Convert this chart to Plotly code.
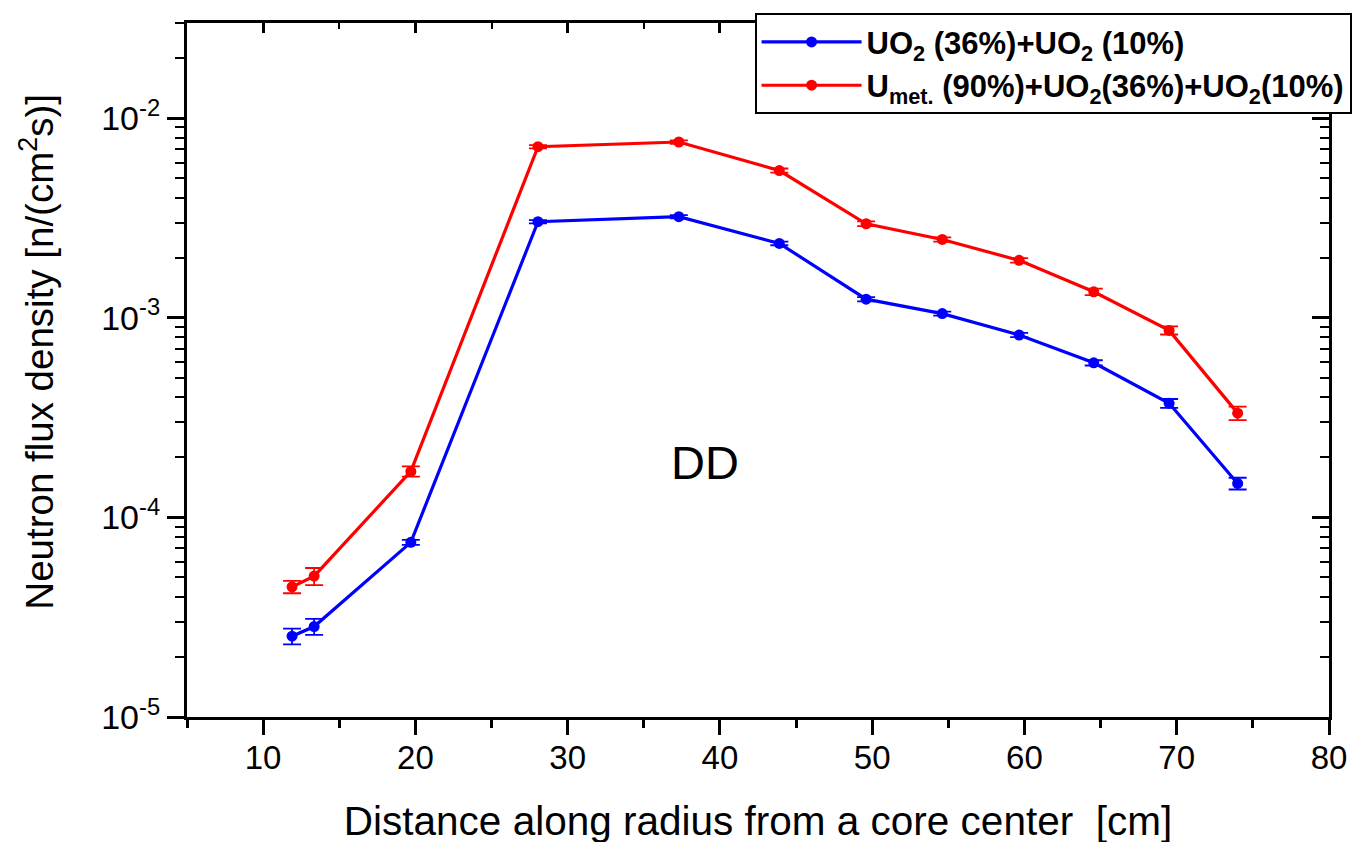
import plotly.graph_objects as go

# Distance along radius [cm]
distance = [11.9, 13.35, 19.7, 28.05, 37.3, 43.9, 49.6, 54.6, 59.65, 64.55, 69.5, 74.0]

# UO2 (36%) + UO2 (10%)
flux_uo2 = [2.54e-5, 2.84e-5, 7.5e-5, 3.03e-3, 3.21e-3, 2.36e-3, 1.24e-3, 1.05e-3, 8.2e-4, 5.95e-4, 3.73e-4, 1.48e-4]
err_uo2 = [2.3e-6, 2.6e-6, 2.2e-6, 6e-5, 6e-5, 5e-5, 3e-5, 2.5e-5, 2e-5, 1.8e-5, 1.9e-5, 1.0e-5]

# Umet (90%) + UO2 (36%) + UO2 (10%)
flux_umet = [4.49e-5, 5.08e-5, 1.70e-4, 7.2e-3, 7.6e-3, 5.47e-3, 2.96e-3, 2.47e-3, 1.94e-3, 1.35e-3, 8.65e-4, 3.33e-4]
err_umet = [3.2e-6, 5e-6, 1.0e-5, 1.4e-4, 1.5e-4, 1.3e-4, 8e-5, 6e-5, 5e-5, 5e-5, 4e-5, 2.6e-5]

series_names = [
    "<b>UO<sub>2</sub> (36%)+UO<sub>2</sub> (10%)</b>",
    "<b>U<sub>met.</sub> (90%)+UO<sub>2</sub>(36%)+UO<sub>2</sub>(10%)</b>",
]

x_title = "Distance along radius from a core center  [cm]"
y_title = "Neutron flux density [n/(cm<sup>2</sup>s)]"

x_major = [10, 20, 30, 40, 50, 60, 70, 80]
x_minor = [5, 15, 25, 35, 45, 55, 65, 75]
y_major = [1e-5, 1e-4, 1e-3, 1e-2]
y_major_text = ["10<sup>-5</sup>", "10<sup>-4</sup>", "10<sup>-3</sup>", "10<sup>-2</sup>"]
y_minor = [m * 10.0 ** e for e in (-5, -4, -3, -2) for m in range(2, 10) if m * 10.0 ** e <= 0.0301]

X_RANGE = [5, 80]
Y_RANGE = [-5, -1.5229]

FONT = "Liberation Sans, Arial, sans-serif"

fig = go.Figure()
for ys, es, col, name in [(flux_uo2, err_uo2, "#0000FF", series_names[0]),
                          (flux_umet, err_umet, "#FF0000", series_names[1])]:
    fig.add_trace(go.Scatter(
        x=distance, y=ys, name=name, mode="lines+markers",
        line=dict(color=col, width=3.2),
        marker=dict(color=col, size=11),
        error_y=dict(type="data", array=es, visible=True, color=col, thickness=1.8, width=9),
    ))

# empty trace to activate mirrored axes (top / right with inward ticks)
fig.add_trace(go.Scatter(x=[], y=[], xaxis="x2", yaxis="y2", showlegend=False, hoverinfo="skip"))

axis_common = dict(showline=True, linecolor="black", linewidth=3, showgrid=False, zeroline=False,
                   tickcolor="black", tickwidth=3, automargin=False)

fig.update_layout(
    width=1366, height=842,
    margin=dict(l=179, r=45, t=5, b=133),
    paper_bgcolor="white", plot_bgcolor="white",
    font=dict(family=FONT, color="black"),
    showlegend=True,
    xaxis=dict(range=X_RANGE, tickmode="array", tickvals=x_major, ticks="outside", ticklen=15,
               tickfont=dict(size=33, family=FONT), ticklabelstandoff=-6,
               minor=dict(tickmode="array", tickvals=x_minor, ticks="outside", ticklen=8,
                          tickwidth=3, tickcolor="black"),
               title=dict(text=x_title, font=dict(size=40.5, family=FONT), standoff=33),
               **axis_common),
    yaxis=dict(type="log", range=Y_RANGE, tickmode="array", tickvals=y_major, ticktext=y_major_text,
               ticks="outside", ticklen=17, tickfont=dict(size=34, family=FONT),
               minor=dict(tickmode="array", tickvals=y_minor, ticks="outside", ticklen=9,
                          tickwidth=2, tickcolor="black"),
               **axis_common),
    xaxis2=dict(range=X_RANGE, overlaying="x", side="top", tickmode="array", tickvals=x_major,
                ticks="inside", ticklen=10, showticklabels=False,
                minor=dict(tickmode="array", tickvals=x_minor, ticks="inside", ticklen=6,
                           tickwidth=2, tickcolor="black"),
                **axis_common),
    yaxis2=dict(type="log", range=Y_RANGE, overlaying="y", side="right", tickmode="array",
                tickvals=y_major, ticks="inside", ticklen=17, showticklabels=False,
                minor=dict(tickmode="array", tickvals=y_minor, ticks="inside", ticklen=9,
                           tickwidth=2, tickcolor="black"),
                **axis_common),
    legend=dict(x=0.497, y=1.014, xanchor="left", yanchor="top",
                bgcolor="white", bordercolor="black", borderwidth=2,
                font=dict(size=31, family=FONT, color="black"),
                tracegroupgap=0, itemwidth=100),
    annotations=[
        dict(text="DD", x=39, y=-3.725, xref="x", yref="y", showarrow=False,
             xanchor="center", yanchor="middle", font=dict(size=47, family=FONT)),
        dict(text=y_title, x=-0.131, y=0.527, xref="paper", yref="paper", showarrow=False,
             textangle=-90, xanchor="center", yanchor="middle", font=dict(size=38.5, family=FONT)),
    ],
)

fig.write_html("out.html")
